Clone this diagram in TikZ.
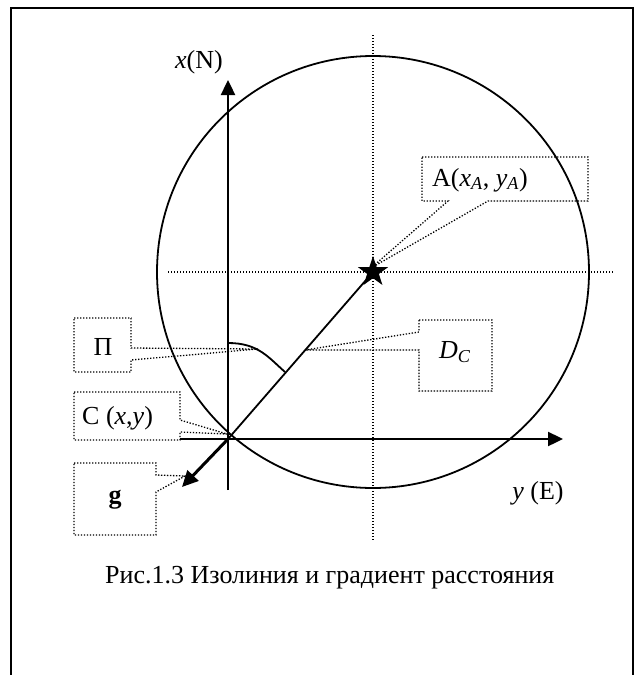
\documentclass[tikz,border=0pt]{standalone}
\usepackage{fontspec}
\setmainfont{Liberation Serif}
\usetikzlibrary{arrows.meta,shapes.geometric}
\begin{document}
\begin{tikzpicture}[x=1pt,y=-1pt,
  dotln/.style={line width=1.3pt, dash pattern=on 1.3pt off 1.7pt},
  thinln/.style={line width=1.8pt},
  axisln/.style={line width=2.4pt,-{Triangle[length=15pt,width=14pt]}},
  lbl/.style={inner sep=0pt, font=\fontsize{26}{30}\selectfont},
]
\useasboundingbox (0,0) rectangle (643,675);
% frame
\draw[line width=2pt] (11,680) -- (11,8) -- (633,8) -- (633,680);
% guides
\coordinate (gvt) at (373,35);
\coordinate (gvb) at (373,540);
\coordinate (ghl) at (168,272);
\coordinate (ghr) at (613,272);
\draw[dotln] (gvt) -- (gvb);
\draw[dotln] (ghl) -- (ghr);
% circle
\coordinate (O) at (373,272);
\draw[thinln] (O) circle[radius=216];
% axes
\coordinate (C) at (228,439);
\coordinate (ytop) at (228,80);
\coordinate (ybot) at (228,490);
\coordinate (xl) at (180,439);
\coordinate (xr) at (563,439);
\draw[axisln] (ybot) -- (ytop);
\draw[axisln] (xl) -- (xr);
% star
\node[star, star points=5, star point ratio=2.6, fill, minimum size=32pt, inner sep=0pt] (A) at (O) {};
\draw[thinln] (C) -- (A.center);
% arc
\coordinate (arcs) at (228,343);
\coordinate (arce) at (285,372);
\draw[thinln] (arcs) .. controls (258,343) and (268,357) .. (arce);
% gradient arrow
\coordinate (gtip) at (182,487);
\draw[line width=3pt,-{Triangle[length=16pt,width=15pt]}] (C) -- (gtip);
% labels
\node[lbl] (xn) at (199,62) {\textit{x}(N)};
\node[lbl] (ye) at (538,493) {\textit{y} (E)};
\node[lbl, anchor=base west] (cap) at (105,583) {Рис.1.3 Изолиния и градиент расстояния};
% callout A
\draw[dotln] (422,157) -- (588,157) -- (588,201) -- (488,201) -- (371,268) -- (448,201) -- (422,201) -- cycle;
\node[lbl, anchor=west] (la) at (432,180) {A(\textit{x}\textsubscript{\textit{A}}, \textit{y}\textsubscript{\textit{A}})};
% callout D_C
\draw[dotln] (419,320) -- (492,320) -- (492,391) -- (419,391) -- (419,350) -- (305,350) -- (419,332) -- cycle;
\node[lbl] (ld) at (455,352) {\textit{D}\textsubscript{\textit{C}}};
% callout Pi
\draw[dotln] (74,318) -- (131,318) -- (131,348) -- (258,349) -- (131,360) -- (131,372) -- (74,372) -- cycle;
\node[lbl] (lp) at (103,347) {П};
% callout C
\draw[dotln] (74,392) -- (180,392) -- (180,420) -- (227,434) -- (180,432) -- (180,440) -- (74,440) -- cycle;
\node[lbl, anchor=west] (lc) at (82,418) {C (\textit{x},\textit{y})};
% callout g
\draw[dotln] (74,463) -- (156,463) -- (156,475) -- (185,476) -- (156,492) -- (156,535) -- (74,535) -- cycle;
\node[lbl] (lg) at (115,500) {\textbf{g}};
\end{tikzpicture}
\end{document}
